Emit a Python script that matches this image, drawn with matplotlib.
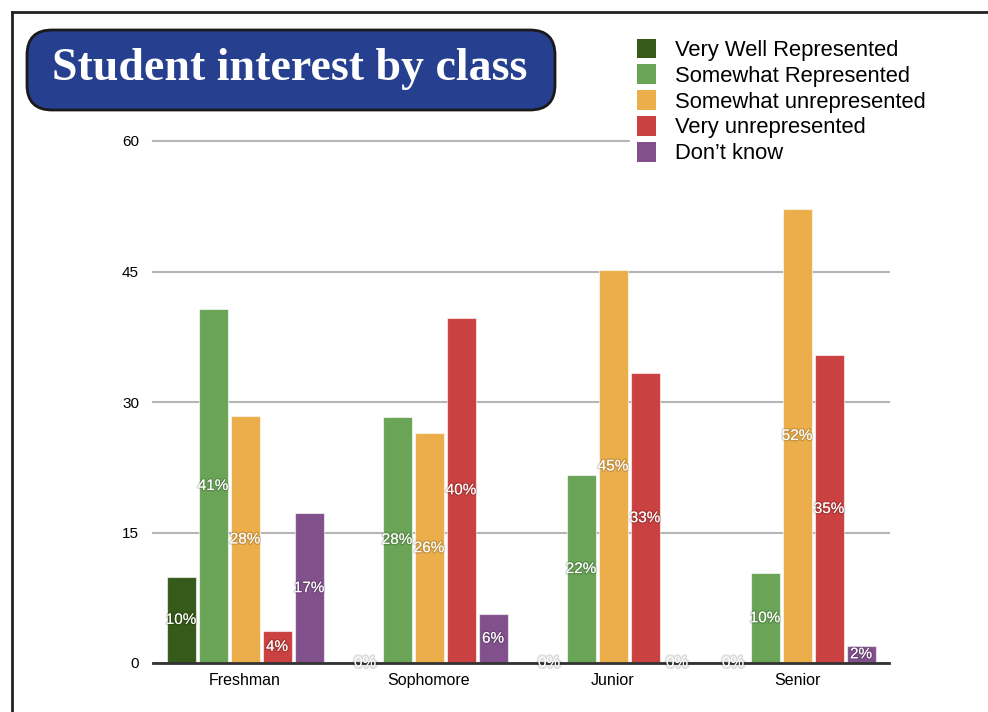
import matplotlib
matplotlib.use("Agg")
import matplotlib.pyplot as plt
import matplotlib.patheffects as pe
from matplotlib.patches import FancyBboxPatch
from matplotlib.lines import Line2D
import numpy as np

categories = ["Freshman", "Sophomore", "Junior", "Senior"]
series_names = ["Very Well Represented", "Somewhat Represented",
                "Somewhat unrepresented", "Very unrepresented", "Don\u2019t know"]
very_well = [9.9, 0, 0, 0]
somewhat_rep = [40.7, 28.3, 21.6, 10.3]
somewhat_unrep = [28.4, 26.4, 45.2, 52.2]
very_unrep = [3.7, 39.7, 33.3, 35.4]
dont_know = [17.2, 5.6, 0, 2.0]
yticks = [0, 15, 30, 45, 60]
title = "Student interest by class"

colors = ["#355a19", "#6aa457", "#ebae4a", "#cb4040", "#82518c"]
series = [very_well, somewhat_rep, somewhat_unrep, very_unrep, dont_know]

sans = ["Liberation Sans", "DejaVu Sans"]

fig = plt.figure(figsize=(9.88, 7.12), dpi=100)
ax = fig.add_axes([153/988, 1-663/712, (889-153)/988, (663-141)/712])

x = np.arange(len(categories))
step = 32/184
width = 29/184
for i, (vals, c, name) in enumerate(zip(series, colors, series_names)):
    pos = x + (i-2)*step
    ax.bar(pos, vals, width, color=c, edgecolor=(1, 1, 1, 0.6), linewidth=0.8,
           label=name, zorder=3)
    for xp, v in zip(pos, vals):
        lab = f"{round(v):d}%"
        if v == 0:
            ax.text(xp, 0, lab, ha="center", va="center", color="white", fontsize=11,
                    family=sans, zorder=5,
                    path_effects=[pe.withStroke(linewidth=3, foreground=(0, 0, 0, 0.12))])
        else:
            ax.text(xp, v/2, lab, ha="center", va="center", color="white", fontsize=11,
                    family=sans, zorder=5,
                    path_effects=[pe.withStroke(linewidth=2, foreground=(0, 0, 0, 0.15))])

ax.set_xlim(-0.5, 3.5)
ax.set_ylim(0, 60)
ax.set_yticks(yticks)
ax.set_yticklabels([str(t) for t in yticks], family=sans, fontsize=11)
ax.set_xticks(x)
ax.set_xticklabels(categories, family=sans, fontsize=11.5)
ax.tick_params(axis="y", length=0, pad=10)
ax.tick_params(axis="x", length=0, pad=7)
for s in ["top", "right", "left"]:
    ax.spines[s].set_visible(False)
ax.spines["bottom"].set_linewidth(2)
ax.spines["bottom"].set_color("#333333")
ax.spines["bottom"].set_zorder(4)
ax.yaxis.grid(True, color="#b5b5b5", linewidth=1.5, zorder=0)
for gl in ax.get_ygridlines():
    gl.set_clip_on(False)
ax.set_axisbelow(True)

leg = fig.legend(loc="upper left", bbox_to_anchor=(619/988, 1-21/712),
                 frameon=True, facecolor="white", edgecolor="white", framealpha=1,
                 handlelength=0.9, handleheight=1.0,
                 handletextpad=0.85, labelspacing=0.16, borderpad=0.3,
                 prop={"family": sans, "size": 15.8})
leg.set_zorder(20)
for h in leg.legend_handles:
    h.set_edgecolor("none")

# Title box
box = FancyBboxPatch((0.27, 7.12-1.10), 5.28, 0.80,
                     boxstyle="round,pad=0,rounding_size=0.25",
                     transform=fig.dpi_scale_trans, facecolor="#263f8f",
                     edgecolor="#1a1a1a", linewidth=2, zorder=10)
fig.patches.append(box)
fig.text(2.90/9.88, 1-0.69/7.12, title, ha="center", va="center", color="white",
         fontsize=33, fontweight="bold", family=["Liberation Serif", "DejaVu Serif"],
         zorder=11)

# Frame lines
fig.add_artist(Line2D([0.12, 9.88], [7.00, 7.00], transform=fig.dpi_scale_trans,
                      color="#222222", linewidth=2))
fig.add_artist(Line2D([0.12, 0.12], [0, 7.00], transform=fig.dpi_scale_trans,
                      color="#222222", linewidth=2))

fig.savefig("out.png", dpi=100)
